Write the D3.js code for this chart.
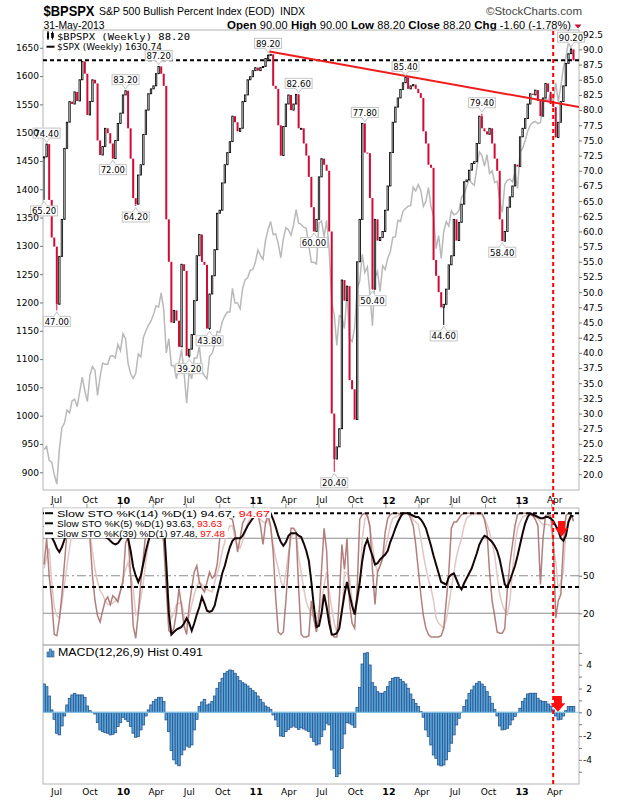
<!DOCTYPE html>
<html>
<head>
<meta charset="utf-8">
<title>$BPSPX weekly</title>
<script src="https://cdn.jsdelivr.net/npm/d3@7/dist/d3.min.js"></script>
<style>
  body { margin: 0; background: #fff; }
  text { font-family: "DejaVu Sans", Verdana, sans-serif; }
</style>
</head>
<body>
<svg id="chart" width="620" height="800"></svg>
<script>
// weekly closes, first week ending 2009-06-05, last 2013-05-31
const firstWeek = "2009-06-05";

const bpClose = [
  72.3, 74.4, 65.2, 59, 57.5, 48, 55.9, 62, 73.7, 78,
  81.4, 81, 83, 81.5, 85, 88, 86, 79.2, 81.4, 85,
  84.4, 75, 72.6, 74, 77, 76.2, 74.5, 72, 75, 77.8,
  79.5, 82.5, 83.2, 77, 72, 65.5, 64.5, 69.3, 71, 76,
  80, 82.7, 83.5, 84, 86, 87.2, 86, 84, 62, 55,
  45, 47, 45.3, 41, 54.6, 53.5, 39.5, 40.6, 43, 48.6,
  56, 59.5, 55, 54.5, 44, 49.7, 52.7, 57, 63, 63.5,
  68, 71, 73, 74.8, 79, 78, 76.5, 77, 81.4, 82.5,
  85, 85.5, 86.5, 87, 86.5, 87, 87.2, 88.5, 89, 89.2,
  84, 83.5, 77.5, 72.5, 77.3, 81, 82.5, 80, 81, 82.6,
  77, 77, 74.5, 72.5, 69, 64, 60, 62, 69, 72,
  71, 70, 60, 30, 22.5, 24.5, 27.5, 52, 48.6, 51,
  35.5, 34, 29, 55, 62, 77.8, 73, 72.9, 65.5, 50.5,
  62, 58.5, 59, 60, 63.5, 67.5, 73, 78, 80.5, 82,
  83.4, 84.5, 85.4, 83.5, 84, 84.2, 83.5, 82.8, 82, 76.5,
  74.5, 71, 70.5, 55.3, 52.7, 50, 47.5, 48, 50.5, 54.5,
  56, 62, 58.5, 61.5, 64.5, 68.2, 68.5, 70.1, 71.2, 71.5,
  74.5, 79, 77, 76.5, 76, 77, 74.5, 72, 70, 62,
  58.4, 60, 64, 65.7, 67.5, 71, 70.7, 75.6, 77, 78.6,
  81, 82.7, 82.5, 83.3, 81.5, 79, 82, 84.4, 83, 81,
  80.5, 75.5, 78, 81.4, 84, 87.7, 89.3, 90, 88.2
];

const spxClose = [
  940, 946, 921, 918, 896, 879, 940, 979, 987, 1010,
  1005, 1026, 1029, 1016, 1042, 1068, 1044, 1025, 1071, 1087,
  1080, 1036, 1069, 1093, 1091, 1091, 1105, 1106, 1102, 1126,
  1115, 1145, 1136, 1092, 1074, 1066, 1075, 1109, 1104, 1138,
  1150, 1160, 1167, 1179, 1194, 1192, 1217, 1187, 1111, 1136,
  1088, 1089, 1065, 1092, 1117, 1076, 1022, 1078, 1065, 1102,
  1102, 1122, 1079, 1071, 1065, 1105, 1110, 1125, 1149, 1147,
  1166, 1176, 1183, 1183, 1225, 1199, 1199, 1189, 1225, 1240,
  1244, 1257, 1258, 1271, 1293, 1283, 1276, 1310, 1329, 1343,
  1320, 1321, 1304, 1279, 1313, 1332, 1328, 1319, 1337, 1364,
  1340, 1338, 1333, 1331, 1300, 1271, 1271, 1268, 1340, 1344,
  1316, 1345, 1292, 1199, 1178, 1124, 1177, 1174, 1154, 1216,
  1136, 1131, 1155, 1224, 1238, 1285, 1253, 1263, 1216, 1159,
  1244, 1255, 1219, 1265, 1258, 1278, 1289, 1315, 1316, 1345,
  1343, 1361, 1366, 1370, 1371, 1404, 1397, 1408, 1398, 1370,
  1379, 1403, 1369, 1353, 1295, 1318, 1278, 1325, 1343, 1335,
  1362, 1355, 1357, 1363, 1386, 1391, 1405, 1418, 1411, 1407,
  1438, 1466, 1460, 1441, 1461, 1428, 1433, 1412, 1414, 1380,
  1359, 1409, 1416, 1418, 1413, 1430, 1402, 1466, 1472, 1486,
  1503, 1513, 1518, 1520, 1516, 1518, 1551, 1561, 1556, 1569,
  1553, 1588, 1555, 1582, 1614, 1633, 1660, 1650, 1630.74
];

// slow stochastics
const stoFast = [
  59, 80, 50, 30, 3, 2, 15, 35, 60, 85,
  95, 98, 100, 97, 95, 98, 96, 90, 80, 50,
  30, 18, 13, 22, 30, 33, 27, 34, 32, 29,
  38, 45, 76, 81, 50, 10, 0, 20, 45, 65,
  85, 93, 97, 98, 100, 100, 95, 75, 40, 6,
  4, 8, 21, 40, 25, 10, 3, 26, 40, 53,
  58, 45, 40, 37, 45, 53, 48, 50, 59, 80,
  93, 97, 98, 96, 95, 85, 69, 80, 92, 96,
  98, 99, 100, 100, 99, 90, 75, 92, 99, 90,
  69, 32, 5, 3, 5, 30, 60, 88, 88, 85,
  40, 3, 1, 1, 2, 30, 15, 5, 18, 55,
  88, 70, 20, 3, 1, 1, 32, 75, 55, 80,
  28, 12, 8, 40, 95, 99, 100, 98, 90, 55,
  27, 53, 58, 64, 85, 96, 99, 100, 100, 100,
  99, 100, 100, 100, 96, 90, 75, 55, 35, 18,
  8, 3, 1, 1, 1, 1, 2, 8, 30, 53,
  88, 93, 93, 96, 99, 100, 100, 100, 100, 100,
  100, 100, 100, 95, 85, 53, 30, 18, 5, 4,
  4, 8, 40, 60, 75, 90, 99, 100, 100, 100,
  100, 99, 98, 95, 90, 43, 80, 98, 99, 98,
  80, 16, 30, 35, 75, 98, 100, 99, 93.63
];

const stoMid = [
  56, 65, 72, 45, 25, 18, 16, 28, 43, 58,
  72, 85, 93, 96, 97, 97, 96, 92, 85, 69,
  55, 45, 38, 35, 30, 27, 27, 28, 30, 32,
  38, 48, 55, 61, 50, 40, 19, 21, 32, 45,
  62, 75, 85, 92, 96, 98, 97, 88, 59, 30,
  16, 20, 27, 28, 29, 18, 11, 18, 27, 35,
  42, 45, 43, 40, 39, 38, 37, 45, 52, 59,
  70, 77, 85, 90, 90, 80, 74, 72, 78, 85,
  92, 96, 98, 98, 97, 95, 93, 92, 95, 88,
  75, 64, 56, 46, 40, 53, 68, 80, 84, 84,
  65, 53, 40, 29, 24, 19, 17, 16, 22, 29,
  42, 53, 38, 24, 12, 5, 12, 19, 53, 52,
  48, 30, 21, 28, 40, 80, 95, 99, 88, 75,
  60, 53, 58, 64, 72, 80, 90, 96, 97, 98,
  99, 99, 100, 100, 98, 95, 93, 91, 80, 67,
  56, 47, 40, 30, 16, 12, 10, 8, 15, 27,
  40, 53, 65, 73, 80, 90, 96, 98, 99, 99,
  99, 99, 99, 96, 91, 85, 76, 67, 50, 35,
  27, 22, 19, 30, 53, 75, 88, 93, 97, 98,
  99, 99, 98, 97, 96, 93, 91, 91, 91, 90,
  75, 61, 40, 45, 53, 85, 95, 98, 94.67
];

const stoSlow = [
  90, 88, 85, 81, 77, 72, 69, 73, 79, 86,
  91, 94, 96, 97, 97, 98, 97, 95, 93, 91,
  90, 86, 82, 81, 81, 80, 78, 76, 75, 76,
  79, 82, 83, 80, 70, 57, 50, 45, 50, 60,
  70, 78, 84, 90, 94, 97, 98, 93, 60, 20,
  3, 5, 7, 8, 9, 12, 16, 12, 6, 12,
  19, 25, 33, 28, 22, 21, 22, 26, 35, 43,
  52, 58, 66, 73, 78, 80, 80, 80, 82, 86,
  90, 93, 96, 98, 99, 100, 100, 100, 100, 100,
  95, 89, 82, 77, 74, 77, 82, 84, 84, 84,
  82, 81, 76, 70, 62, 45, 25, 9, 10, 20,
  35, 25, 12, 3, 3, 4, 8, 22, 35, 45,
  35, 26, 19, 32, 45, 62, 74, 79, 72, 66,
  59, 60, 63, 65, 67, 70, 77, 82, 88, 93,
  97, 100, 100, 100, 99, 98, 97, 97, 95, 92,
  88, 81, 74, 66, 59, 52, 45, 44, 43, 49,
  51, 52, 47, 42, 39, 44, 48, 52, 56, 62,
  68, 75, 79, 82, 81, 79, 77, 74, 70, 63,
  53, 43, 41, 46, 52, 58, 66, 75, 84, 92,
  97, 100, 99, 98, 97, 96, 96, 97, 97, 96,
  94, 90, 86, 80, 78, 82, 93, 98, 97.48
];

const macdHist = [
  2.38, 2.16, 1.37, 0.2, -0.59, -1.76, -1.9, -1.15, -0.31, 0.62,
  1.18, 1.46, 1.6, 1.46, 1.46, 1.46, 1.26, 0.53, 0.14, -0.03,
  -0.14, -0.87, -1.48, -1.62, -1.71, -1.76, -1.9, -1.85, -1.71, -1.2,
  -0.87, -0.42, -0.59, -0.78, -1.2, -1.76, -2.1, -2.04, -1.48, -1.06,
  -0.31, 0.2, 0.62, 0.9, 1.09, 1.26, 1.26, 0.9, -0.64, -1.62,
  -3.22, -4.0, -4.34, -4.5, -3.58, -3.17, -2.83, -2.94, -2.74, -1.48,
  -0.59, 0.48, 0.87, 1.09, 0.62, 0.7, 0.9, 1.37, 2.02, 2.49,
  2.86, 3.28, 3.42, 3.56, 3.5, 3.28, 3.0, 2.66, 2.49, 2.38,
  2.21, 2.02, 1.82, 1.65, 1.37, 1.09, 0.81, 0.53, 0.42, 0.25,
  -0.22, -0.64, -1.2, -1.99, -2.04, -1.62, -1.43, -1.26, -1.15, -1.26,
  -1.43, -1.3, -1.4, -1.5, -1.62, -2.1, -2.46, -2.75, -2.66, -2.04,
  -1.48, -0.92, -1.06, -3.17, -4.71, -5.41, -5.18, -3.03, -1.82, -0.87,
  -0.92, -1.06, -1.26, 0.42, 2.1, 4.06, 4.96, 5.01, 3.98, 2.49,
  2.16, 1.74, 1.6, 1.6, 1.74, 2.16, 2.58, 2.86, 2.94, 2.94,
  2.77, 2.58, 2.38, 2.02, 1.54, 1.09, 0.76, 0.48, 0.06, -0.42,
  -1.48, -2.04, -2.75, -3.59, -3.87, -4.43, -4.51, -4.43, -4.0, -3.31,
  -2.6, -1.9, -1.06, -0.5, -0.03, 0.48, 1.04, 1.6, 1.88, 2.21,
  2.44, 2.58, 2.38, 2.16, 1.74, 1.32, 0.76, 0.25, -0.31, -1.15,
  -1.48, -1.43, -1.34, -1.06, -0.64, -0.36, -0.03, 0.34, 0.9, 1.18,
  1.54, 1.6, 1.6, 1.6, 1.18, 0.98, 0.9, 0.9, 0.7, 0.53,
  0.2, -0.31, -0.64, -0.59, -0.31, 0.14, 0.48, 0.48, 0.491
];

// swing labels: [week index, value, side]
const pivots = [
  [1, 74.4, "high"], [0, 65.2, "low"], [5, 47.0, "low"], [32, 83.2, "high"],
  [27, 72.0, "low"], [45, 87.2, "high"], [36, 64.2, "low"], [57, 39.2, "low"],
  [65, 43.8, "low"], [88, 89.2, "high"], [100, 82.6, "high"], [106, 60.0, "low"],
  [114, 20.4, "low"], [129, 50.4, "low"], [126, 77.8, "high"], [142, 85.4, "high"],
  [157, 44.6, "low"], [172, 79.4, "high"], [180, 58.4, "low"], [207, 90.2, "high"]
];

// user annotations
const bpLevel = 88.2;
const trendLine = [["2011-02-11", 89.7], ["2013-06-15", 80.5]];
const stoDashed = [100, 41];
const stoGrid = [20, 80];
const stoMidLine = 50;
const markerDate = "2013-04-05";
const stoArrow = { date: "2013-04-28", top: 93.8, neck: 88, tip: 81.3 };
const macdArrow = { date: "2013-04-18", top: 1.37, neck: 0.76, tip: 0.05 };

// axis ticks
const bpTicks = [20, 22.5, 25, 27.5, 30, 32.5, 35, 37.5, 40, 42.5, 45, 47.5, 50, 52.5, 55,
  57.5, 60, 62.5, 65, 67.5, 70, 72.5, 75, 77.5, 80, 82.5, 85, 87.5, 90, 92.5];
const spxTicks = [900, 950, 1000, 1050, 1100, 1150, 1200, 1250, 1300, 1350, 1400, 1450,
  1500, 1550, 1600, 1650];
const stoTicks = [20, 50, 80];
const macdTicks = [-5, -4, -3, -2, -1, 0, 1, 2, 3, 4, 5];
const macdLabels = [-4, -2, 0, 2, 4];
const quarterTicks = ["2009-07-01", "2009-10-01", "2010-01-01", "2010-04-01", "2010-07-01",
  "2010-10-01", "2011-01-01", "2011-04-01", "2011-07-01", "2011-10-01", "2012-01-01",
  "2012-04-01", "2012-07-01", "2012-10-01", "2013-01-01", "2013-04-01"];
const quarterLabels = ["Jul", "Oct", "10", "Apr", "Jul", "Oct", "11", "Apr", "Jul", "Oct",
  "12", "Apr", "Jul", "Oct", "13", "Apr"];

const parseDay = d3.utcParse("%Y-%m-%d");
const weeks = bpClose.map((d, i) => d3.utcDay.offset(parseDay(firstWeek), 7 * i));

const svg = d3.select("#chart");
const left = 43, right = 579;
const P1 = { top: 30, bottom: 490 };
const P2 = { top: 508, bottom: 645 };
const P3 = { top: 645, bottom: 784 };

const x = d3.scaleUtc()
  .domain([parseDay("2009-06-02"), parseDay("2013-06-15")])
  .range([left, right]);
const yBp = d3.scaleLinear().domain([17.4, 93.2]).range([P1.bottom, P1.top]);
const ySpx = d3.scaleLinear().domain([868.7, 1681.4]).range([P1.bottom, P1.top]);
const ySto = d3.scaleLinear().domain([-5.4, 104.2]).range([P2.bottom, P2.top]);
const yMacd = d3.scaleLinear().domain([-6.03, 5.66]).range([P3.bottom, P3.top]);

const red = "#d40a36";
const sans = '"Liberation Sans", Arial, sans-serif';

// clip paths for each panel
const defs = svg.append("defs");
[P1, P2, P3].forEach((p, i) => {
  defs.append("clipPath").attr("id", "clip" + i)
    .append("rect").attr("x", left).attr("y", p.top)
    .attr("width", right - left).attr("height", p.bottom - p.top);
});

// ---------- header ----------
const head = svg.append("g");
head.append("text").attr("x", 43.5).attr("y", 15.5).attr("font-size", 14.5).attr("font-weight", "bold")
  .attr("textLength", 51).attr("lengthAdjust", "spacingAndGlyphs")
  .style("font-family", sans).text("$BPSPX");
head.append("text").attr("x", 99).attr("y", 15).attr("font-size", 10.5)
  .style("font-family", sans).text("S&P 500 Bullish Percent Index (EOD)");
head.append("text").attr("x", 280).attr("y", 15).attr("font-size", 10.5)
  .style("font-family", sans).text("INDX");
head.append("text").attr("x", 582).attr("y", 15).attr("font-size", 11.5)
  .attr("text-anchor", "end").attr("fill", "#444")
  .style("font-family", sans).text("\u00a9StockCharts.com");
head.append("text").attr("x", 43.5).attr("y", 28.5).attr("font-size", 11)
  .attr("textLength", 61).attr("lengthAdjust", "spacingAndGlyphs")
  .style("font-family", sans).text("31-May-2013");

const quote = [["Open", "90.00"], ["High", "90.00"], ["Low", "88.20"], ["Close", "88.20"],
  ["Chg", "-1.60 (-1.78%)"]];
const qt = head.append("text").attr("x", 227).attr("y", 28.5).attr("font-size", 11)
  .attr("textLength", 344).attr("lengthAdjust", "spacing")
  .style("font-family", sans);
quote.forEach(([k, v], i) => {
  qt.append("tspan").attr("font-weight", "bold").attr("font-size", 11.5).text((i ? "  " : "") + k);
  qt.append("tspan").text(" " + v);
});
head.append("path").attr("d", "M574.5,24.5L581.5,24.5L578,28.5Z").attr("fill", "#c8102e");

// ---------- panel frames ----------
[P1, P2, P3].forEach(p => {
  svg.append("rect").attr("x", left).attr("y", p.top)
    .attr("width", right - left).attr("height", p.bottom - p.top)
    .attr("fill", "none").attr("stroke", "#b4b4b4").attr("stroke-width", 1);
});

// ---------- panel 1: price ----------
const g1 = svg.append("g").attr("clip-path", "url(#clip0)");

g1.append("path")
  .datum(spxClose)
  .attr("fill", "none")
  .attr("stroke", "#b9b9b9")
  .attr("stroke-width", 1.5)
  .attr("d", d3.line().x((d, i) => x(weeks[i])).y(d => ySpx(d)));

const candles = bpClose.map((c, i) => ({
  date: weeks[i], open: i ? bpClose[i - 1] : c, close: c
}));

// wicks for the labelled swing points
g1.selectAll("line.wick").data(pivots).join("line")
  .attr("class", "wick")
  .attr("x1", d => x(weeks[d[0]])).attr("x2", d => x(weeks[d[0]]))
  .attr("y1", d => yBp(d[2] === "high" ? Math.max(candles[d[0]].open, candles[d[0]].close)
                                        : Math.min(candles[d[0]].open, candles[d[0]].close)))
  .attr("y2", d => yBp(d[1]))
  .attr("stroke", d => candles[d[0]].close >= candles[d[0]].open ? "#000" : red)
  .attr("stroke-width", 1);

g1.selectAll("rect.candle").data(candles).join("rect")
  .attr("class", "candle")
  .attr("x", d => x(d.date) - (d.close >= d.open ? 0.7 : 1))
  .attr("width", d => d.close >= d.open ? 1.4 : 2)
  .attr("y", d => yBp(Math.max(d.open, d.close)))
  .attr("height", d => Math.max(1, Math.abs(yBp(d.open) - yBp(d.close))))
  .attr("fill", d => d.close >= d.open ? "#fff" : red)
  .attr("stroke", d => d.close >= d.open ? "#000" : "none")
  .attr("stroke-width", 0.85);

g1.append("line")
  .attr("x1", left).attr("x2", right)
  .attr("y1", yBp(bpLevel)).attr("y2", yBp(bpLevel))
  .attr("stroke", "#000").attr("stroke-width", 2).attr("stroke-dasharray", "4,3");

g1.append("path")
  .datum(trendLine)
  .attr("fill", "none").attr("stroke", "#ee1c1c").attr("stroke-width", 2)
  .attr("d", d3.line().x(d => x(parseDay(d[0]))).y(d => yBp(d[1])));

// swing labels
const lab = svg.append("g");
pivots.forEach(([wi, v, side]) => {
  const cx = x(weeks[wi]);
  const py = yBp(v);
  const w = 27, h = 10;
  const boxY = side === "high" ? py - 6 - h : py + 6;
  const edge = side === "high" ? py - 6 : py + 6;
  const tipY = side === "high" ? py - 1.5 : py + 1.5;
  lab.append("rect").attr("x", cx - w / 2).attr("y", boxY).attr("width", w).attr("height", h)
    .attr("fill", "#fff").attr("stroke", "#c4c4c4").attr("stroke-width", 1);
  lab.append("path")
    .attr("d", `M${cx - 3},${edge}L${cx},${tipY}L${cx + 3},${edge}`)
    .attr("fill", "#fff").attr("stroke", "#c4c4c4").attr("stroke-width", 1);
  lab.append("line").attr("x1", cx - 2.5).attr("x2", cx + 2.5).attr("y1", edge).attr("y2", edge)
    .attr("stroke", "#fff").attr("stroke-width", 1.2);
  lab.append("text").attr("x", cx).attr("y", boxY + h / 2 + 0.5)
    .attr("text-anchor", "middle").attr("dominant-baseline", "central")
    .attr("font-size", 8.5).text(v.toFixed(2));
});

// legend panel 1
const lg1 = svg.append("g");
lg1.append("rect").attr("x", 47).attr("y", 32.5).attr("width", 2).attr("height", 6).attr("fill", "#000");
lg1.append("line").attr("x1", 48).attr("x2", 48).attr("y1", 31).attr("y2", 40).attr("stroke", "#000");
lg1.append("rect").attr("x", 51.5).attr("y", 33.5).attr("width", 2).attr("height", 4)
  .attr("fill", "#fff").attr("stroke", "#000").attr("stroke-width", 0.8);
lg1.append("line").attr("x1", 52.5).attr("x2", 52.5).attr("y1", 31.5).attr("y2", 39.5).attr("stroke", "#000");
lg1.append("line").attr("x1", 46.5).attr("x2", 54.5).attr("y1", 46.7).attr("y2", 46.7)
  .attr("stroke", "#000").attr("stroke-width", 2);
lg1.append("text").attr("x", 57).attr("y", 36).attr("dominant-baseline", "central")
  .attr("font-size", 9.5).attr("textLength", 133).attr("lengthAdjust", "spacingAndGlyphs")
  .style("font-family", '"DejaVu Sans Mono", monospace').text("$BPSPX (Weekly) 88.20");
lg1.append("text").attr("x", 57).attr("y", 46.8).attr("dominant-baseline", "central")
  .attr("font-size", 9.5).attr("textLength", 105).attr("lengthAdjust", "spacingAndGlyphs")
  .text("$SPX (Weekly) 1630.74");

// axes panel 1
function styleAxis(g) {
  g.select(".domain").remove();
  g.selectAll(".tick line").attr("stroke", "#777");
  g.selectAll(".tick text").attr("font-size", 9).attr("fill", "#000")
    .style("font-family", '"DejaVu Sans", Verdana, sans-serif');
}
svg.append("g").attr("transform", `translate(${right},0)`)
  .call(d3.axisRight(yBp).tickValues(bpTicks).tickFormat(d3.format(".1f")).tickSize(3).tickPadding(1))
  .call(styleAxis);
svg.append("g").attr("transform", `translate(${left},0)`)
  .call(d3.axisLeft(ySpx).tickValues(spxTicks).tickFormat(d3.format("d")).tickSize(3).tickPadding(1))
  .call(styleAxis);

function xLabels(yText) {
  svg.append("g").selectAll("text").data(quarterTicks).join("text")
    .attr("x", d => x(parseDay(d)) + 3)
    .attr("y", yText)
    .attr("text-anchor", "middle")
    .attr("dominant-baseline", "central")
    .attr("font-size", (d, i) => /^\d/.test(quarterLabels[i]) ? 9.5 : 9)
    .attr("font-weight", (d, i) => /^\d/.test(quarterLabels[i]) ? "bold" : null)
    .text((d, i) => quarterLabels[i]);
}
xLabels(500);
xLabels(791.5);
svg.append("g").selectAll("line").data(quarterTicks).join("line")
  .attr("x1", d => x(parseDay(d))).attr("x2", d => x(parseDay(d)))
  .attr("y1", P2.top - 4).attr("y2", P2.top).attr("stroke", "#999");

// ---------- panel 2: stochastics ----------
const g2 = svg.append("g").attr("clip-path", "url(#clip1)");
g2.selectAll("line.grid").data(stoGrid).join("line")
  .attr("x1", left).attr("x2", right).attr("y1", d => ySto(d)).attr("y2", d => ySto(d))
  .attr("stroke", "#8c8c8c").attr("stroke-width", 1);
g2.append("line").attr("x1", left).attr("x2", right)
  .attr("y1", ySto(stoMidLine)).attr("y2", ySto(stoMidLine))
  .attr("stroke", "#8c8c8c").attr("stroke-width", 1).attr("stroke-dasharray", "9,3,2,3");

const stoLine = d3.line().x((d, i) => x(weeks[i])).y(d => ySto(d));
g2.append("path").datum(stoMid).attr("fill", "none").attr("stroke", "#e2c6c6")
  .attr("stroke-width", 1.5).attr("d", stoLine);
g2.append("path").datum(stoFast).attr("fill", "none").attr("stroke", "#a9716f")
  .attr("stroke-width", 1.5).attr("stroke-opacity", 0.9).attr("d", stoLine);
g2.append("path").datum(stoSlow).attr("fill", "none").attr("stroke", "#160606")
  .attr("stroke-width", 2).attr("d", stoLine);

// legend panel 2 (white backing)
const lg2 = svg.append("g");
lg2.append("rect").attr("x", left + 1).attr("y", P2.top + 0.5).attr("width", 227).attr("height", 9.5).attr("fill", "#fff");
lg2.append("rect").attr("x", left + 1).attr("y", P2.top + 10).attr("width", 184).attr("height", 20).attr("fill", "#fff");
const stoLegend = [
  ["Slow STO %K(14) %D(1) 94.67,", " 94.67", 513.2, 213],
  ["Slow STO %K(5) %D(1) 93.63,", " 93.63", 523.3, 165],
  ["Slow STO %K(39) %D(1) 97.48,", " 97.48", 533.3, 168]
];
stoLegend.forEach(([a, b, yy, len]) => {
  lg2.append("line").attr("x1", 45).attr("x2", 53).attr("y1", yy).attr("y2", yy)
    .attr("stroke", "#000").attr("stroke-width", 2);
  const t = lg2.append("text").attr("x", 57).attr("y", yy).attr("dominant-baseline", "central")
    .attr("font-size", 9.5).attr("textLength", len).attr("lengthAdjust", "spacingAndGlyphs")
    .style("font-family", sans);
  t.append("tspan").text(a);
  t.append("tspan").attr("fill", "#ff0000").text(b);
});

g2.selectAll("line.lvl").data(stoDashed).join("line")
  .attr("x1", left).attr("x2", right).attr("y1", d => ySto(d)).attr("y2", d => ySto(d))
  .attr("stroke", "#000").attr("stroke-width", 2).attr("stroke-dasharray", "4,3");

svg.append("g").attr("transform", `translate(${right},0)`)
  .call(d3.axisRight(ySto).tickValues(stoTicks).tickSize(3).tickPadding(1))
  .call(styleAxis);

// ---------- panel 3: MACD histogram ----------
const g3 = svg.append("g").attr("clip-path", "url(#clip2)");
const bw = x(weeks[1]) - x(weeks[0]);
g3.selectAll("rect.bar").data(macdHist).join("rect")
  .attr("x", (d, i) => x(weeks[i]) - bw / 2)
  .attr("width", bw)
  .attr("y", d => yMacd(Math.max(0, d)))
  .attr("height", d => Math.abs(yMacd(d) - yMacd(0)))
  .attr("fill", "#5aa3d6").attr("stroke", "#27548f").attr("stroke-width", 0.8);
g3.append("line").attr("x1", left).attr("x2", right)
  .attr("y1", yMacd(0)).attr("y2", yMacd(0))
  .attr("stroke", "#8fd3f2").attr("stroke-width", 1);

const lg3 = svg.append("g");
[[47, 5], [49.5, 8], [52, 6]].forEach(([bx, bh]) => {
  lg3.append("rect").attr("x", bx).attr("y", 657 - bh).attr("width", 2).attr("height", bh)
    .attr("fill", "#5aa3d6").attr("stroke", "#27548f").attr("stroke-width", 0.6);
});
lg3.append("text").attr("x", 58).attr("y", 652.7).attr("dominant-baseline", "central")
  .attr("font-size", 10).attr("textLength", 145).attr("lengthAdjust", "spacingAndGlyphs")
  .style("font-family", sans)
  .text("MACD(12,26,9) Hist 0.491");

svg.append("g").attr("transform", `translate(${right},0)`)
  .call(d3.axisRight(yMacd).tickValues(macdTicks)
    .tickFormat(d => macdLabels.includes(d) ? d : "").tickSize(3).tickPadding(1))
  .call(styleAxis)
  .call(g => g.selectAll(".tick text").attr("text-anchor", "end").attr("x", 13));

// ---------- annotations across panels ----------
svg.append("line")
  .attr("x1", x(parseDay(markerDate))).attr("x2", x(parseDay(markerDate)))
  .attr("y1", P1.top + 1).attr("y2", P3.bottom + 3)
  .attr("stroke", "#ff0000").attr("stroke-width", 2).attr("stroke-dasharray", "4,3");

function arrow(a, y, bodyHalf, headHalf) {
  const cx = x(parseDay(a.date));
  const t = y(a.top), n = y(a.neck), p = y(a.tip);
  svg.append("path")
    .attr("d", `M${cx - bodyHalf},${t}H${cx + bodyHalf}V${n}H${cx + headHalf}L${cx},${p}L${cx - headHalf},${n}H${cx - bodyHalf}Z`)
    .attr("fill", "#ff1010");
}
arrow(stoArrow, ySto, 3.5, 6.5);
arrow(macdArrow, yMacd, 4, 7.5);
</script>
</body>
</html>
